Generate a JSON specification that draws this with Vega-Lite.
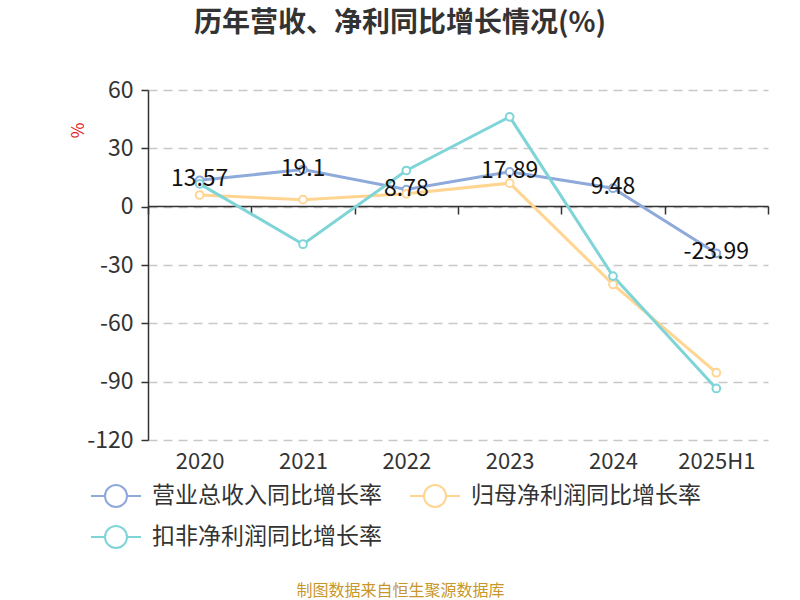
{
  "$schema": "https://vega.github.io/schema/vega-lite/v6.json",
  "width": 620,
  "height": 350,
  "autosize": {"type": "none"},
  "padding": {"left": 148, "top": 90, "right": 32, "bottom": 160},
  "background": "white",
  "config": {
    "font": "Noto Sans CJK SC",
    "view": {"stroke": null}
  },
  "title": {
    "text": "历年营收、净利同比增长情况(%)",
    "fontSize": 28,
    "fontWeight": "bold",
    "color": "#333333",
    "anchor": "middle",
    "frame": "group",
    "dx": -58,
    "offset": 41
  },
  "data": {
    "values": [
      {"year": "2020", "series": "营业总收入同比增长率", "value": 13.57},
      {"year": "2021", "series": "营业总收入同比增长率", "value": 19.1},
      {"year": "2022", "series": "营业总收入同比增长率", "value": 8.78},
      {"year": "2023", "series": "营业总收入同比增长率", "value": 17.89},
      {"year": "2024", "series": "营业总收入同比增长率", "value": 9.48},
      {"year": "2025H1", "series": "营业总收入同比增长率", "value": -23.99},
      {"year": "2020", "series": "归母净利润同比增长率", "value": 6.0},
      {"year": "2021", "series": "归母净利润同比增长率", "value": 3.6},
      {"year": "2022", "series": "归母净利润同比增长率", "value": 6.6},
      {"year": "2023", "series": "归母净利润同比增长率", "value": 12.1},
      {"year": "2024", "series": "归母净利润同比增长率", "value": -40.0},
      {"year": "2025H1", "series": "归母净利润同比增长率", "value": -85.4},
      {"year": "2020", "series": "扣非净利润同比增长率", "value": 11.7},
      {"year": "2021", "series": "扣非净利润同比增长率", "value": -19.3},
      {"year": "2022", "series": "扣非净利润同比增长率", "value": 18.6},
      {"year": "2023", "series": "扣非净利润同比增长率", "value": 46.2},
      {"year": "2024", "series": "扣非净利润同比增长率", "value": -35.7},
      {"year": "2025H1", "series": "扣非净利润同比增长率", "value": -93.5}
    ]
  },
  "encoding": {
    "x": {
      "field": "year",
      "type": "ordinal",
      "sort": null,
      "scale": {"type": "band", "paddingInner": 0, "paddingOuter": 0},
      "axis": {
        "title": "制图数据来自恒生聚源数据库",
        "titleColor": "#c8962a",
        "titleFontSize": 16,
        "titleFontWeight": "normal",
        "titleAnchor": "start",
        "titleAlign": "center",
        "titleBaseline": "middle",
        "titleX": 252,
        "titleY": 384,
        "offset": -234,
        "labelAngle": 0,
        "labelFontSize": 22,
        "labelColor": "#333333",
        "labelPadding": 237,
        "tickBand": "extent",
        "tickSize": 8,
        "tickColor": "#333333",
        "tickWidth": 1.5,
        "domainColor": "#333333",
        "domainWidth": 1.5
      }
    },
    "y": {
      "field": "value",
      "type": "quantitative",
      "scale": {"domain": [-120, 60], "nice": false, "zero": false},
      "axis": {
        "values": [-120, -90, -60, -30, 0, 30, 60],
        "labelExpr": "'' + datum.value",
        "title": "%",
        "titleColor": "#e02020",
        "titleFontSize": 17,
        "titleFontWeight": "normal",
        "titleX": -61,
        "titleY": 40,
        "titleAngle": -90,
        "titleAlign": "center",
        "labelFontSize": 23,
        "labelColor": "#333333",
        "labelPadding": 8,
        "tickSize": 7,
        "tickColor": "#333333",
        "tickWidth": 1.5,
        "domainColor": "#333333",
        "domainWidth": 1.5,
        "grid": true,
        "gridColor": "#c8c8c8",
        "gridDash": [9, 6],
        "gridWidth": 1.5
      }
    },
    "color": {
      "field": "series",
      "type": "nominal",
      "scale": {
        "domain": ["营业总收入同比增长率", "归母净利润同比增长率", "扣非净利润同比增长率"],
        "range": ["#8eaadb", "#ffd591", "#7fd4d7"]
      },
      "legend": {
        "title": null,
        "orient": "none",
        "legendX": -58,
        "legendY": 380,
        "direction": "horizontal",
        "columns": 2,
        "columnPadding": 24,
        "rowPadding": -8,
        "labelFontSize": 23,
        "labelColor": "#333333",
        "labelOffset": 10,
        "labelLimit": 400,
        "symbolType": "M-1,0H-0.44M0.44,0H1M0.44,0A0.44,0.44 0 1,1 -0.44,0A0.44,0.44 0 1,1 0.44,0",
        "symbolSize": 2500,
        "symbolStrokeWidth": 2,
        "encode": {"symbols": {"update": {"fill": {"value": "white"}}}}
      }
    }
  },
  "layer": [
    {
      "mark": {
        "type": "line",
        "strokeWidth": 3,
        "point": {"filled": false, "fill": "white", "size": 60, "strokeWidth": 2}
      }
    },
    {
      "transform": [
        {"filter": "datum.series === '营业总收入同比增长率'"},
        {"calculate": "'' + datum.value", "as": "label"}
      ],
      "mark": {
        "type": "text",
        "fontSize": 23,
        "align": "center",
        "baseline": "middle",
        "dy": -1
      },
      "encoding": {
        "text": {"field": "label", "type": "nominal"},
        "color": {"value": "#111111"}
      }
    }
  ]
}
